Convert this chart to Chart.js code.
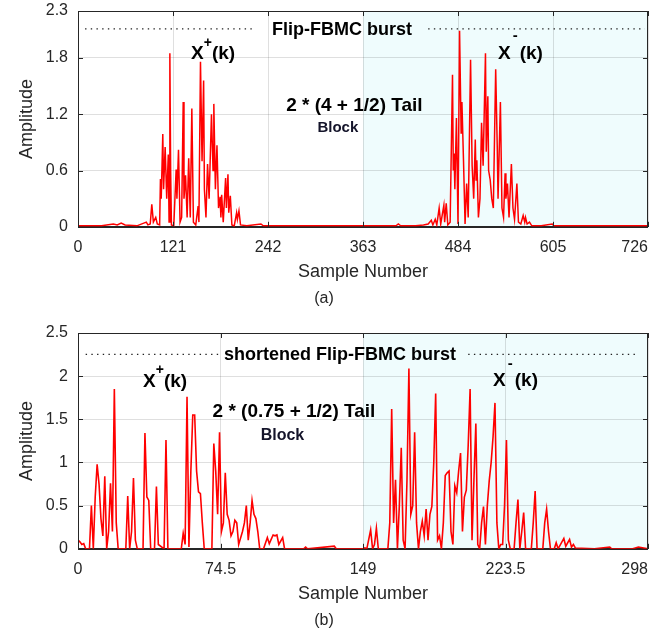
<!DOCTYPE html>
<html>
<head>
<meta charset="utf-8">
<script src="https://cdn.jsdelivr.net/npm/chart.js@4.4.0/dist/chart.umd.min.js"></script>
<style>
  body { margin: 0; background: #fff; }
  #wrap { position: relative; width: 662px; height: 634px; }
  .box { position: absolute; left: 0; width: 662px; }
</style>
</head>
<body>
<div id="wrap">
  <div class="box" style="top:0;height:312px"><canvas id="top"></canvas></div>
  <div class="box" style="top:318px;height:316px"><canvas id="bottom"></canvas></div>
</div>
<script>
// (a) Flip-FBMC burst, 727 samples
var topSamples = [0,30,45,50,55,60,75,87,89,92, 94,96,99,101,104,105,106,108,109,111,
  113,115,116,117,118,119,122,125,126,128, 130,132,134,135,137,139,141,143,145,147,
  150,153,154,156,158,160,161,163,165,167, 170,172,173,175,177,179,181,182,183,185,
  188,189,191,192,194,196,199,202,203,205, 207,215,233,236,300,363,
  405,408,411,430,440,446,450,452,455,457, 460,462,466,467,469,471,474,477,478,479,
  480,482,484,486,488,489,491,493,495,497, 500,502,504,506,507,508,510,512,514,516,
  519,520,522,523,525,527,529,532,534,535, 538,540,542,544,545,547,549,552,554,556,
  559,561,564,567,569,570,572,575,578,590, 604,606,726];
var topAmp = [0.01,0.01,0.03,0.02,0.04,0.02,0.01,0.05,0.02,0.03, 0.24,0.05,0.1,0.03,0.02,0.51,0.3,0.99,0.4,0.85,
  0.3,0.77,0.05,1.85,0.6,0.02,0.01,0.61,0.3,0.82, 0.05,0.1,1.33,0.3,0.55,0.1,0.73,0.1,1.26,0.05,
  0.02,0.22,0.05,1.76,0.7,1.56,0.4,0.1,0.67,0.3, 1.2,0.6,1.31,0.4,0.87,0.2,0.32,0.1,0.34,0.05,
  0.52,0.2,0.56,0.15,0.33,0.02,0.01,0.15,0.08,0.17, 0.02,0.01,0.03,0.01,0.01,0.01,
  0.01,0.03,0.01,0.01,0.02,0.03,0.07,0.02,0.08,0.02, 0.2,0.03,0.23,0.05,0.25,0.02,0.05,1.62,0.6,0.78,
  0.4,1.16,0.03,2.09,1.0,1.33,0.71,0.03,0.46,0.1, 1.78,0.65,0.3,0.93,0.5,0.71,0.1,0.3,1.11,0.65,
  1.85,0.8,1.39,0.6,0.5,0.3,0.2,1.68,0.85,0.3, 1.33,0.2,0.1,0.57,0.3,0.46,0.1,0.67,0.2,0.08,
  0.46,0.05,0.03,0.12,0.05,0.1,0.03,0.05,0.01,0.01, 0.03,0.01,0.01];

// (b) shortened Flip-FBMC burst, 299 samples
var botSamples = [0,1,2,3,4,6,7,8,9,10, 11,12,13,14,15,16,17,18,19,20,
  21,25,26,27,28,29,30,31,34,35, 36,37,38,40,41,42,45,46,47,54,
  55,56,57,58,59,60,61,62,63,64, 65,66,70,71,72,73,74,75,76,77,
  78,79,80,81,82,83,84,86,87,88, 89,90,91,92,93,94,95,97,99,100,
  102,103,104,105,107,108,118,119,120,134, 135,
  149,150,151,153,154,155,156,157,162,163, 164,165,166,167,168,169,170,171,172,173,
  174,175,176,177,178,179,180,181,182,183, 184,185,186,187,188,189,190,191,192,193,
  194,195,196,197,198,199,200,201,202,203, 204,205,206,207,208,209,210,211,212,213,
  214,215,216,217,218,219,220,221,222,223, 224,225,226,228,229,230,231,232,233,234,
  237,238,239,240,243,244,245,246,247,249, 250,251,254,255,257,258,259,260,270,278,
  279,290,293,298];
var botAmp = [0.1,0.08,0.05,0.06,0,0,0.5,0,0.6,0.98, 0.75,0.35,0.15,0.84,0,0.2,0.76,0.2,1.85,0.3,
  0,0,0.61,0,0.2,0.82,0.1,0,0,1.34, 0.6,0.56,0,0,0.72,0.05,0,1.26,0,0,
  0.18,0.05,1.76,0.02,0.9,1.55,1.55,0.9,0.66,0.64, 0.3,0,0,1.22,0.9,0.4,1.35,0.2,0.3,0.88,
  0.4,0.33,0.15,0.2,0.33,0.3,0.05,0.2,0.3,0.5, 0.1,0.3,0.56,0.4,0.35,0.2,0,0,0.13,0.06,
  0.16,0.15,0.16,0.05,0.13,0,0,0.02,0,0.03, 0,
  0,0.01,0,0.22,0,0.05,0.24,0,0,0.3, 1.62,0.3,0.8,0,0.5,1.17,0.1,0,0.8,2.09,
  0.4,0.5,1.35,0.3,0,0.2,0.32,0.15,0.46,0.1, 0.4,0.49,1.0,1.8,0.1,0.15,0,0.3,0.85,0.88,
  0.9,0.2,0.05,0.73,0.65,0.9,1.11,0.2,0.6,0.68, 1.2,1.85,0.1,0.8,1.45,0.05,0,0.3,0.49,0.05,
  0.5,0.79,1.0,1.3,1.69,0.3,0,0.05,0.05,0.5, 1.26,0.1,0,0,0.3,0.57,0,0.2,0.42,0,
  0,0.3,0.67,0,0,0.3,0.46,0.2,0,0, 0.07,0,0.12,0.03,0.11,0.02,0.05,0.01,0,0.02,
  0,0,0.02,0];

// ticks
var topXTicks = [0,121,242,363,484,605,726];
var topXLabels = ['0','121','242','363','484','605','726'];
var topYTicks = [0,0.6,1.2,1.8,2.3];
var topYLabels = ['0','0.6','1.2','1.8','2.3'];
var botXTicks = [0,74.5,149,223.5,298];
var botXLabels = ['0','74.5','149','223.5','298'];
var botYTicks = [0,0.5,1,1.5,2,2.5];
var botYLabels = ['0','0.5','1','1.5','2','2.5'];

// dotted "burst" markers: [start, end] sample ranges and level
var topDots = [[9,224],[446,722]];
var topDotLevel = 2.11;
var botDots = [[4,74],[204,293]];
var botDotLevel = 2.253;

var FONT = "'Liberation Sans', Arial, Helvetica, sans-serif";
var INK = '#262626';
var GRID = 'rgba(38,38,38,0.15)';

var topNotes = [
  {x: 247, y: 2.047, align: 'left', parts: [{t: 'Flip-FBMC burst', f: 'bold 18px'}]},
  {x: 144, y: 1.786, align: 'left', parts: [{t: 'X', f: 'bold 19px'}, {t: '+', f: 'bold 14px', dy: -12}, {t: '(k)', f: 'bold 19px'}]},
  {x: 535, y: 1.786, align: 'left', parts: [{t: 'X', f: 'bold 19px', gap: 2}, {t: '-', f: 'bold 15px', dy: -19, gap: 2}, {t: '(k)', f: 'bold 19px'}]},
  {x: 352, y: 1.235, align: 'center', parts: [{t: '2 * (4 + 1/2) Tail', f: 'bold 19px'}]},
  {x: 331, y: 1.015, align: 'center', color: '#14142a', parts: [{t: 'Block', f: 'bold 15px'}]}
];
var botNotes = [
  {x: 76.3, y: 2.182, align: 'left', parts: [{t: 'shortened Flip-FBMC burst', f: 'bold 18px'}]},
  {x: 34, y: 1.878, align: 'left', parts: [{t: 'X', f: 'bold 19px'}, {t: '+', f: 'bold 14px', dy: -13}, {t: '(k)', f: 'bold 19px'}]},
  {x: 217, y: 1.89, align: 'left', parts: [{t: 'X', f: 'bold 19px', gap: 2}, {t: '-', f: 'bold 15px', dy: -18, gap: 2}, {t: '(k)', f: 'bold 19px'}]},
  {x: 112.9, y: 1.531, align: 'center', parts: [{t: '2 * (0.75 + 1/2) Tail', f: 'bold 19px'}]},
  {x: 106.9, y: 1.262, align: 'center', color: '#14142a', parts: [{t: 'Block', f: 'bold 16px'}]}
];

function drawNote(ctx, xs, ys, n) {
  var total = 0;
  n.parts.forEach(function (p) {
    ctx.font = p.f + ' ' + FONT;
    total += ctx.measureText(p.t).width + (p.gap || 0);
  });
  var px = xs.getPixelForValue(n.x);
  if (n.align === 'center') px -= total / 2;
  var py = ys.getPixelForValue(n.y);
  ctx.textBaseline = 'alphabetic';
  ctx.textAlign = 'left';
  n.parts.forEach(function (p) {
    ctx.font = p.f + ' ' + FONT;
    ctx.fillStyle = n.color || '#000';
    ctx.fillText(p.t, px, py + (p.dy || 0));
    px += ctx.measureText(p.t).width + (p.gap || 0);
  });
}

var burstPlugin = {
  id: 'burst',
  beforeDraw: function (chart, args, opts) {
    var ctx = chart.ctx, a = chart.chartArea, x = chart.scales.x;
    var x0 = x.getPixelForValue(opts.shadeFrom);
    ctx.save();
    ctx.fillStyle = '#effcfd';
    ctx.fillRect(x0, a.top, a.right - x0, a.bottom - a.top);
    ctx.restore();
  },
  afterDraw: function (chart, args, opts) {
    var ctx = chart.ctx, a = chart.chartArea, xs = chart.scales.x, ys = chart.scales.y;
    ctx.save();
    // box + inward ticks like matlab
    ctx.strokeStyle = INK;
    ctx.lineWidth = 1;
    ctx.strokeRect(Math.round(a.left) + 0.5, Math.round(a.top) + 0.5, Math.round(a.right - a.left) - 1, Math.round(a.bottom - a.top));
    ctx.beginPath();
    xs.ticks.forEach(function (t) {
      var p = Math.round(xs.getPixelForValue(t.value)) + 0.5;
      ctx.moveTo(p, a.bottom); ctx.lineTo(p, a.bottom - 5);
      ctx.moveTo(p, a.top); ctx.lineTo(p, a.top + 5);
    });
    ys.ticks.forEach(function (t) {
      var p = Math.round(ys.getPixelForValue(t.value)) + 0.5;
      ctx.moveTo(a.left, p); ctx.lineTo(a.left + 5, p);
      ctx.moveTo(a.right, p); ctx.lineTo(a.right - 5, p);
    });
    ctx.stroke();
    opts.notes.forEach(function (n) { drawNote(ctx, xs, ys, n); });
    ctx.restore();
  }
};

function makeChart(id, cfg) {
  var series = cfg.samples.map(function (s, i) { return {x: s, y: cfg.amp[i]}; });
  var datasets = [{
    data: series,
    borderColor: '#ff0000',
    borderWidth: cfg.lineWidth,
    pointRadius: 0,
    tension: 0
  }];
  cfg.dots.forEach(function (d) {
    datasets.push({
      data: [{x: d[0], y: cfg.dotLevel}, {x: d[1], y: cfg.dotLevel}],
      borderColor: '#222',
      borderWidth: 1.3,
      borderDash: [1.4, 4.3],
      pointRadius: 0
    });
  });
  var last = cfg.xLabels.length - 1;
  return new Chart(document.getElementById(id), {
    type: 'line',
    data: {datasets: datasets},
    options: {
      responsive: true,
      maintainAspectRatio: false,
      animation: false,
      layout: {padding: {top: cfg.padTop, right: 14, left: 0, bottom: 0}},
      plugins: {
        legend: {display: false},
        tooltip: {enabled: false},
        title: {
          display: true, position: 'bottom', text: cfg.caption,
          color: INK, font: {family: FONT, size: 16, weight: 'normal'},
          padding: {top: 4, bottom: 4}
        },
        burst: {shadeFrom: cfg.shadeFrom, notes: cfg.notes}
      },
      scales: {
        x: {
          type: 'linear', min: cfg.xTicks[0], max: cfg.xTicks[cfg.xTicks.length - 1],
          afterBuildTicks: function (s) { s.ticks = cfg.xTicks.map(function (v) { return {value: v}; }); },
          afterFit: function (s) { s.height = 58; s.paddingLeft = 0; s.paddingRight = 0; },
          ticks: {
            autoSkip: false, maxRotation: 0, padding: 11, color: INK,
            font: {family: FONT, size: 16},
            // last label sits inside the frame, as in the figure
            callback: function (v, i) { return i === last ? cfg.xLabels[i] + '      ' : cfg.xLabels[i]; }
          },
          grid: {color: GRID, drawTicks: false},
          border: {color: INK},
          title: {display: true, text: 'Sample Number', color: INK, font: {family: FONT, size: 18}, padding: {top: 0, bottom: 2}}
        },
        y: {
          min: cfg.yTicks[0], max: cfg.yTicks[cfg.yTicks.length - 1],
          afterBuildTicks: function (s) { s.ticks = cfg.yTicks.map(function (v) { return {value: v}; }); },
          afterFit: function (s) { s.width = 78; s.paddingTop = 0; s.paddingBottom = 0; },
          ticks: {
            padding: 10, color: INK, font: {family: FONT, size: 16},
            callback: function (v, i) { return cfg.yLabels[i]; }
          },
          grid: {color: GRID, drawTicks: false},
          border: {color: INK},
          title: {display: true, text: 'Amplitude', color: INK, font: {family: FONT, size: 18}, padding: {top: 16, bottom: 0}}
        }
      }
    },
    plugins: [burstPlugin]
  });
}

makeChart('top', {
  samples: topSamples, amp: topAmp, lineWidth: 1.5,
  dots: topDots, dotLevel: topDotLevel,
  xTicks: topXTicks, xLabels: topXLabels, yTicks: topYTicks, yLabels: topYLabels,
  shadeFrom: 363, notes: topNotes, caption: '(a)', padTop: 11
});
makeChart('bottom', {
  samples: botSamples, amp: botAmp, lineWidth: 1.6,
  dots: botDots, dotLevel: botDotLevel,
  xTicks: botXTicks, xLabels: botXLabels, yTicks: botYTicks, yLabels: botYLabels,
  shadeFrom: 149, notes: botNotes, caption: '(b)', padTop: 15
});
</script>
</body>
</html>
